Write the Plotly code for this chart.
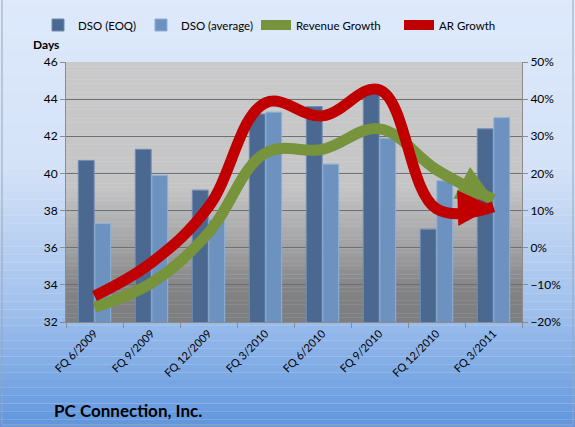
import numpy as np
import plotly.graph_objects as go

# Quarter labels and values
categories = ["FQ 6/2009", "FQ 9/2009", "FQ 12/2009", "FQ 3/2010",
              "FQ 6/2010", "FQ 9/2010", "FQ 12/2010", "FQ 3/2011"]
dso_eoq = [40.7, 41.3, 39.1, 43.2, 43.6, 44.3, 37.0, 42.4]
dso_avg = [37.3, 39.9, 37.5, 43.3, 40.5, 41.9, 39.6, 43.0]
revenue_growth = [-0.16, -0.095, 0.04, 0.255, 0.265, 0.32, 0.21, 0.13]
ar_growth = [-0.13, -0.04, 0.11, 0.39, 0.355, 0.425, 0.105, 0.11]

W, H = 575, 427
L, R, T, B = 66, 53, 62, 105
pw, ph = W - L - R, H - T - B


def interp_color(stops, f):
    """Linear interpolation between (pos, (r, g, b)) stops."""
    for (p0, c0), (p1, c1) in zip(stops, stops[1:]):
        if p0 <= f <= p1:
            t = (f - p0) / (p1 - p0) if p1 > p0 else 0
            c = [round(a + (b - a) * t) for a, b in zip(c0, c1)]
            return "rgb(%d,%d,%d)" % tuple(c)
    return "rgb(%d,%d,%d)" % stops[-1][1]


def gradient_bands(x0, x1, y0, y1, stops, n=60):
    # y0 is top, y1 is bottom in paper coords
    shapes = []
    edges = np.linspace(y0, y1, n + 1)
    for i in range(n):
        shapes.append(dict(type="rect", xref="paper", yref="paper",
                           x0=x0, x1=x1, y0=edges[i + 1], y1=edges[i],
                           line=dict(width=0),
                           fillcolor=interp_color(stops, (i + 0.5) / n),
                           layer="below"))
    return shapes


# Outer blue background and grey plot area, drawn as stacked bands
outer_stops = [(0, (224, 235, 252)), (0.45, (212, 226, 248)),
               (0.75, (160, 192, 236)), (1.0, (96, 150, 222))]
plot_stops = [(0, (201, 201, 201)), (0.48, (197, 197, 197)),
              (0.72, (160, 160, 160)), (0.88, (130, 130, 130)), (1.0, (126, 126, 126))]

shapes = gradient_bands(-L / pw, (W - L) / pw, (H - T) / ph, -B / ph, outer_stops)
shapes += gradient_bands(0, 1, 1, 0, plot_stops)
shapes.append(dict(type="rect", xref="paper", yref="paper",
                   x0=(2 - L) / pw, x1=(W - 2 - L) / pw, y0=(-B + 2) / ph, y1=(H - T - 2) / ph,
                   line=dict(color="#9aa6b4", width=1), layer="above"))

fig = go.Figure()
fig.add_trace(go.Bar(
    x=categories, y=dso_eoq, name="DSO (EOQ)", legend="legend",
    marker=dict(color="#4a6890", line=dict(color="#6f8db5", width=1)),
))
fig.add_trace(go.Bar(
    x=categories, y=dso_avg, name="DSO (average)", legend="legend",
    marker=dict(color="#6d92c0", line=dict(color="#8fb0d8", width=1)),
))

n = len(categories)
arrows = []
for vals, name, color in [(revenue_growth, "Revenue Growth", "#77933c"),
                          (ar_growth, "AR Growth", "#c00000")]:
    fig.add_trace(go.Scatter(
        x=categories, y=vals, name=name, yaxis="y2", mode="lines", legend="legend2",
        line=dict(color=color, width=11, shape="spline", smoothing=1.1),
    ))
    # arrow head at the last point, tail taken along the last segment
    k = 0.3
    arrows.append(dict(
        x=n - 1, y=vals[-1], xref="x", yref="y2",
        ax=n - 1 - k, ay=vals[-1] + k * (vals[-2] - vals[-1]),
        axref="x", ayref="y2", showarrow=True, text="",
        arrowhead=2, arrowsize=0.65, arrowwidth=11, arrowcolor=color,
    ))

legend_style = dict(orientation="h", xanchor="left", xref="container",
                    y=1 - 25 / H, yanchor="middle", yref="container",
                    font=dict(size=11.5), bgcolor="rgba(0,0,0,0)", itemwidth=30,
                    traceorder="normal")

fig.update_layout(
    width=W, height=H,
    margin=dict(l=L, r=R, t=T, b=B, autoexpand=False),
    paper_bgcolor="#dfeafb",
    plot_bgcolor="rgba(0,0,0,0)",
    font=dict(family="Lato, Open Sans, sans-serif", size=11, color="#000000"),
    barmode="group", bargap=0.42, bargroupgap=0.04,
    shapes=shapes,
    legend=dict(legend_style, x=38 / W),
    legend2=dict(legend_style, x=256 / W, entrywidth=98, entrywidthmode="pixels"),
    xaxis=dict(tickangle=-45, tickson="boundaries", ticks="outside", ticklen=5,
               tickcolor="#8c8c8c", showline=True, linecolor="#8c8c8c",
               showgrid=False, tickfont=dict(size=11), automargin=False),
    yaxis=dict(range=[32, 46], dtick=2, showgrid=True, gridcolor="#6f6f6f",
               gridwidth=1, ticks="outside", ticklen=5, tickcolor="#8c8c8c",
               showline=True, linecolor="#8c8c8c", zeroline=False,
               tickfont=dict(size=12), automargin=False),
    yaxis2=dict(range=[-0.2, 0.5], dtick=0.1, tickformat=".0%", overlaying="y",
                side="right", showgrid=False, ticks="outside", ticklen=5,
                tickcolor="#8c8c8c", showline=True, linecolor="#8c8c8c",
                zeroline=False, tickfont=dict(size=12), automargin=False),
    annotations=arrows + [
        dict(text="<b>Days</b>", xref="paper", yref="paper",
             x=(46 - L) / pw, y=(H - B - 54) / ph, xanchor="center", yanchor="bottom",
             showarrow=False, font=dict(size=12)),
        dict(text="<b>PC Connection, Inc.</b>", xref="paper", yref="paper",
             x=(52 - L) / pw, y=-(410 - T - ph) / ph, xanchor="left",
             yanchor="middle", showarrow=False, font=dict(size=17)),
    ],
)

# the browser adds a default 8px body margin; drop it so the chart sits at 0,0
fig.write_html("out.html", config={"displayModeBar": False},
               post_script="document.body.style.margin='0';")
